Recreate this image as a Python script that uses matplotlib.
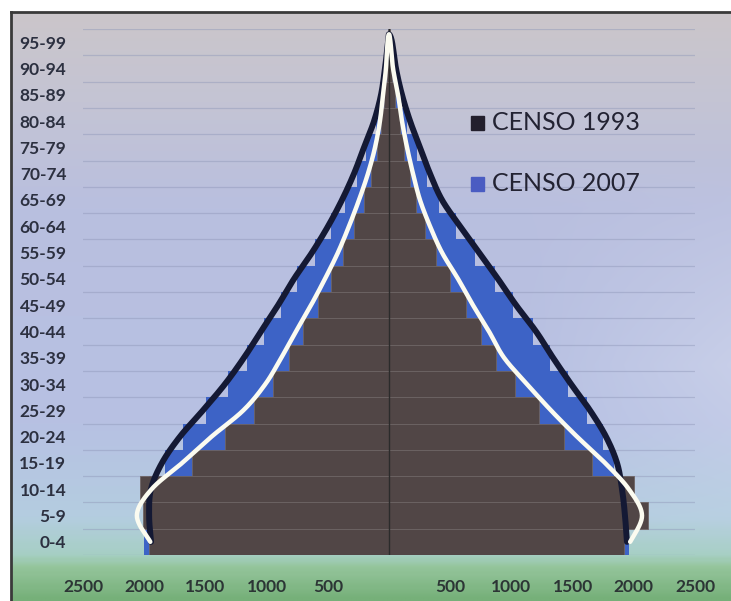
import numpy as np
import matplotlib.pyplot as plt
from matplotlib.colors import LinearSegmentedColormap
from matplotlib.patches import Rectangle

plt.rcParams['font.family'] = ['Lato', 'DejaVu Sans']

# grupos de edad (de abajo hacia arriba)
edades = ['0-4', '5-9', '10-14', '15-19', '20-24', '25-29', '30-34', '35-39',
          '40-44', '45-49', '50-54', '55-59', '60-64', '65-69', '70-74',
          '75-79', '80-84', '85-89', '90-94', '95-99']

# poblacion por censo, lado izquierdo y derecho de la piramide
izq_1993 = [1960, 2010, 2035, 1610, 1340, 1100, 945, 820, 700, 580,
            470, 372, 286, 208, 143, 94, 62, 37, 18, 6]
der_1993 = [1920, 2120, 2000, 1660, 1430, 1225, 1033, 878, 751, 625,
            498, 384, 294, 224, 171, 126, 90, 53, 22, 6]
izq_2007 = [2000, 1990, 1960, 1830, 1680, 1495, 1315, 1160, 1020, 880,
            750, 605, 475, 360, 265, 185, 105, 50, 22, 6]
der_2007 = [1960, 1950, 1900, 1840, 1745, 1615, 1460, 1315, 1175, 1010,
            865, 705, 550, 410, 310, 230, 150, 88, 40, 12]

# curvas de tendencia (oscura y blanca)
negra_izq = [1944, 1960, 1945, 1855, 1708, 1520, 1340, 1185, 1046, 906,
             776, 629, 498, 384, 286, 204, 122, 65, 33, 8]
negra_der = [1944, 1928, 1904, 1863, 1773, 1642, 1487, 1340, 1201, 1038,
             890, 735, 580, 433, 335, 253, 172, 106, 57, 25]
blanca_izq = [1950, 2060, 1940, 1690, 1450, 1190, 1010, 880, 760, 637,
              523, 417, 327, 245, 172, 114, 74, 49, 25, 12]
blanca_der = [1970, 2067, 1960, 1765, 1536, 1323, 1127, 940, 817, 686,
              564, 433, 335, 253, 196, 147, 106, 74, 33, 12]
pico = 19.8

xticks = [-2500, -2000, -1500, -1000, -500, 500, 1000, 1500, 2000, 2500]


def suavizar(xs, ys, n=24):
    # catmull-rom por los puntos dados
    pts = np.column_stack([xs, ys]).astype(float)
    p = np.vstack([pts[0], pts, pts[-1]])
    t = np.linspace(0, 1, n, endpoint=False)[:, None]
    out = []
    for i in range(1, len(p) - 2):
        p0, p1, p2, p3 = p[i - 1], p[i], p[i + 1], p[i + 2]
        out.append(0.5 * (2 * p1 + (-p0 + p2) * t
                          + (2 * p0 - 5 * p1 + 4 * p2 - p3) * t ** 2
                          + (-p0 + 3 * p1 - 3 * p2 + p3) * t ** 3))
    out.append(p[-2][None])
    c = np.vstack(out)
    return c[:, 0], c[:, 1]


W, H = 731, 601
fig = plt.figure(figsize=(W / 100, H / 100), dpi=100)

# fondo degradado
bg = fig.add_axes([11 / W, 0, 1 - 11 / W, (H - 12) / H])
stops = [(0.0, '#cbc6ca'), (0.15, '#c4c4d4'), (0.33, '#b9bfdf'),
         (0.70, '#b7c1e3'), (0.86, '#b4cde0'), (0.925, '#a6cfc4'),
         (0.945, '#95c59c'), (1.0, '#76b079')]
cmap = LinearSegmentedColormap.from_list('fondo', stops)
ny, nx = 300, 200
col = cmap(np.linspace(0, 1, ny))[:, None, :3] * np.ones((1, nx, 1))
xx = np.linspace(0, 1, nx)[None, :]
yy = np.linspace(0, 1, ny)[:, None]
w = 0.22 * np.clip((xx - 0.72) / 0.28, 0, 1) * np.clip(1 - np.abs(yy - 0.6) / 0.35, 0, 1)
col = col * (1 - w[..., None]) + w[..., None]
bg.imshow(col, aspect='auto', extent=[0, 1, 0, 1], interpolation='bilinear')
bg.set_xlim(0, 1)
bg.set_ylim(0, 1)
bg.set_xticks([])
bg.set_yticks([])
for s in ['right', 'bottom']:
    bg.spines[s].set_visible(False)
for s in ['top', 'left']:
    bg.spines[s].set_color('#3a3a3a')
    bg.spines[s].set_linewidth(2)

ax = fig.add_axes([83 / W, (H - 555) / H, (695 - 83) / W, (555 - 29) / H])
ax.set_facecolor('none')

y = np.arange(len(edades))
# censo 2007 detras, censo 1993 delante
ax.barh(y, [-v for v in izq_2007], height=1.0, align='edge', color='#3d63c6', zorder=2)
ax.barh(y, der_2007, height=1.0, align='edge', color='#3d63c6', zorder=2)
ax.barh(y, [-v for v in izq_1993], height=1.0, align='edge', color='#514646',
        edgecolor='#6e6464', linewidth=0.6, zorder=3)
ax.barh(y, der_1993, height=1.0, align='edge', color='#514646',
        edgecolor='#6e6464', linewidth=0.6, zorder=3)

yc = y + 0.5
for izq, der, color, lw in [(negra_izq, negra_der, '#141934', 4.3),
                            (blanca_izq, blanca_der, '#fbfbf0', 3.2)]:
    xs = [-v for v in izq] + [0] + der[::-1]
    ys = list(yc) + [pico] + list(yc[::-1])
    cx, cy = suavizar(xs, ys)
    ax.plot(cx, cy, color=color, lw=lw, solid_capstyle='round', zorder=4)

ax.axvline(0, color='#2b2b2b', lw=1.0, zorder=3.5)

ax.set_xlim(-2500, 2500)
ax.set_ylim(0, 20)
ax.set_xticks(xticks, [str(abs(v)) for v in xticks])
ax.set_yticks(yc, edades)
ax.set_xticks(np.arange(-2500, 2501, 500), minor=True)
ax.set_yticks(np.arange(0, 21), minor=True)
ax.grid(True, which='minor', color='#8f97b8', lw=0.9, alpha=0.45, zorder=1)
ax.tick_params(which='both', length=0)
ax.tick_params(axis='x', pad=17, labelsize=12.5, labelcolor='#2c3535')
ax.tick_params(axis='y', pad=12, labelsize=12.5, labelcolor='#2c3040')
for lab in ax.get_xticklabels() + ax.get_yticklabels():
    lab.set_fontweight('bold')
for s in ax.spines.values():
    s.set_visible(False)

# leyenda
for yy0, color, texto in [(123, '#231f2d', 'CENSO 1993'), (184, '#4a5cc2', 'CENSO 2007')]:
    fig.patches.append(Rectangle((471 / W, 1 - (yy0 + 7) / H), 13 / W, 14 / H,
                                 transform=fig.transFigure, color=color, zorder=5))
    fig.text(492 / W, 1 - yy0 / H, texto, fontsize=18, color='#232333',
             va='center', ha='left', zorder=5)

fig.savefig('out.png', dpi=100)
